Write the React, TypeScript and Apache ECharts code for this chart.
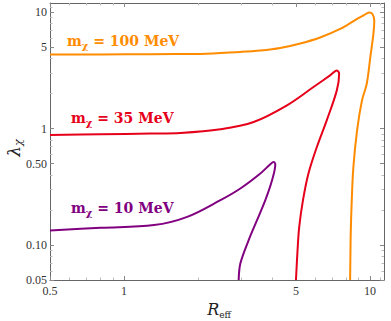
import React, { useEffect, useRef } from "react";
import * as echarts from "echarts";

// Axis ranges (data units)
const xRange = [0.5, 11.4];
const yRange = [0.05, 12];

// Tick values and labels
const xTickValues = [0.5, 1, 5, 10];
const xTickLabels = ["0.5", "1", "5", "10"];
const xMinorTicks = [0.6, 0.7, 0.8, 0.9, 2, 3, 4, 6, 7, 8, 9, 11];
const yTickValues = [0.05, 0.1, 0.5, 1, 5, 10];
const yTickLabels = ["0.05", "0.10", "0.50", "1", "5", "10"];
const yMinorTicks = [0.06, 0.07, 0.08, 0.09, 0.2, 0.3, 0.4, 0.6, 0.7, 0.8, 0.9, 2, 3, 4, 6, 7, 8, 9, 11];

// m_chi = 100 MeV (orange)
const reff100 = [0.5, 0.804, 1.283, 2.046, 2.972, 3.582, 4.318, 5.204, 6.27, 7.56, 8.83, 9.4, 9.94, 10.23, 10.41, 10.33, 10.05, 9.7, 9.28, 8.86, 8.56, 8.43, 8.35, 8.32, 8.3];
const lam100 = [4.34, 4.34, 4.36, 4.38, 4.56, 4.69, 4.93, 5.39, 6.07, 7.18, 8.74, 9.37, 9.94, 9.65, 8.49, 6.57, 4.25, 2.43, 1.75, 0.967, 0.469, 0.243, 0.1265, 0.0742, 0.05];

// m_chi = 35 MeV (red)
const reff35 = [0.5, 0.804, 1.283, 1.697, 2.466, 3.365, 4.596, 5.89, 6.88, 7.33, 7.49, 7.33, 6.67, 6.08, 5.62, 5.34, 5.155, 5.075, 5.0];
const lam35 = [0.881, 0.894, 0.906, 0.917, 0.986, 1.139, 1.584, 2.275, 2.865, 3.16, 2.96, 2.13, 1.178, 0.695, 0.411, 0.2427, 0.1432, 0.0904, 0.05];

// m_chi = 10 MeV (purple)
const reff10 = [0.5, 0.804, 1.323, 1.807, 2.466, 2.972, 3.582, 3.932, 4.056, 4.12, 3.997, 3.753, 3.473, 3.212, 2.972, 2.925];
const lam10 = [0.1334, 0.1405, 0.1482, 0.1745, 0.2427, 0.3058, 0.4111, 0.4942, 0.517, 0.4942, 0.3602, 0.2427, 0.1635, 0.1101, 0.0695, 0.05];

const seriesDefs = [
  { name: "m_chi = 100 MeV", x: reff100, y: lam100, color: "#ff8c00" },
  { name: "m_chi = 35 MeV", x: reff35, y: lam35, color: "#e6001a" },
  { name: "m_chi = 10 MeV", x: reff10, y: lam10, color: "#800080" },
];

const lg = (v: number) => Math.log10(v);

const SERIF = "'Liberation Serif', 'DejaVu Serif', serif";
const BOLD_SERIF = "'DejaVu Serif', serif";

function labelFor(values: number[], labels: string[]) {
  return (v: number) => {
    const i = values.findIndex((t) => Math.abs(lg(t) - v) < 1e-6);
    return i >= 0 ? labels[i] : "";
  };
}

function makeAxis(kind: "x" | "y", position: string, major: boolean, withLabels: boolean) {
  const range = kind === "x" ? xRange : yRange;
  const majors = kind === "x" ? xTickValues : yTickValues;
  const minors = kind === "x" ? xMinorTicks : yMinorTicks;
  const labels = kind === "x" ? xTickLabels : yTickLabels;
  return {
    type: "value",
    position,
    min: lg(range[0]),
    max: lg(range[1]),
    splitLine: { show: false },
    axisLine: { show: major, onZero: false, lineStyle: { color: "#666", width: 1 } },
    axisTick: {
      show: true,
      inside: true,
      length: major ? 4 : 2.5,
      customValues: (major ? majors : minors).map(lg),
      lineStyle: { color: major ? "#888" : "#bbb", width: 1 },
    },
    axisLabel: {
      show: withLabels,
      customValues: majors.map(lg),
      formatter: labelFor(majors, labels),
      fontFamily: SERIF,
      fontSize: 12,
      color: "#333",
      margin: kind === "x" ? 5 : 3,
    },
  };
}

function mathLabel(main: string, color: string, x: number, y: number) {
  return {
    type: "text",
    x,
    y,
    style: {
      text: "{m|m}{s|χ}{m| " + main + "}",
      textAlign: "left",
      textVerticalAlign: "middle",
      fill: color,
      rich: {
        m: { fontFamily: BOLD_SERIF, fontWeight: "bold", fontSize: 14, fill: color, lineHeight: 18 },
        s: { fontFamily: BOLD_SERIF, fontWeight: "bold", fontSize: 10, fill: color, lineHeight: 18, verticalAlign: "bottom", padding: [7, 0, 0, 0] },
      },
    },
  };
}

export default function App() {
  const ref = useRef<HTMLDivElement>(null);
  useEffect(() => {
    if (!ref.current) return;
    const chart = echarts.init(ref.current, null, { renderer: "svg" });
    chart.setOption({
      animation: false,
      backgroundColor: "#fff",
      grid: { left: 50, right: 7, top: 3, bottom: 41, containLabel: false },
      xAxis: [
        makeAxis("x", "bottom", true, true),
        makeAxis("x", "bottom", false, false),
        makeAxis("x", "top", true, false),
        makeAxis("x", "top", false, false),
      ],
      yAxis: [
        makeAxis("y", "left", true, true),
        makeAxis("y", "left", false, false),
        makeAxis("y", "right", true, false),
        makeAxis("y", "right", false, false),
      ],
      series: seriesDefs.map((s) => ({
        type: "line",
        name: s.name,
        xAxisIndex: 0,
        yAxisIndex: 0,
        data: s.x.map((xv, i) => [lg(xv), lg(s.y[i])]),
        showSymbol: false,
        symbol: "none",
        smooth: 0.35,
        clip: true,
        lineStyle: { color: s.color, width: 2 },
      })),
      graphic: [
        mathLabel("= 100 MeV", "#ff8c00", 67, 41),
        mathLabel("= 35 MeV", "#e6001a", 71, 118),
        mathLabel("= 10 MeV", "#800080", 71, 208),
        {
          type: "text",
          x: 14,
          y: 148,
          rotation: Math.PI / 2,
          style: {
            text: "{l|λ}{s|χ}",
            textAlign: "center",
            textVerticalAlign: "middle",
            fill: "#222",
            rich: {
              l: { fontFamily: "'DejaVu Serif', serif", fontStyle: "italic", fontSize: 17, fill: "#222", lineHeight: 20 },
              s: { fontFamily: "'DejaVu Serif', serif", fontStyle: "italic", fontSize: 11, fill: "#222", lineHeight: 20, verticalAlign: "bottom", padding: [6, 0, 0, 0] },
            },
          },
        },
        {
          type: "text",
          x: 219,
          y: 309,
          style: {
            text: "{r|R}{s|eff}",
            textAlign: "center",
            textVerticalAlign: "middle",
            fill: "#222",
            rich: {
              r: { fontFamily: "'DejaVu Serif', serif", fontStyle: "italic", fontSize: 16, fill: "#222", lineHeight: 20 },
              s: { fontFamily: "'DejaVu Serif', serif", fontSize: 9, fill: "#222", lineHeight: 20, verticalAlign: "bottom", padding: [6, 0, 0, 0] },
            },
          },
        },
      ],
    });
    return () => chart.dispose();
  }, []);
  return <div ref={ref} style={{ width: 391, height: 321, position: "absolute", left: 0, top: 0 }} />;
}
